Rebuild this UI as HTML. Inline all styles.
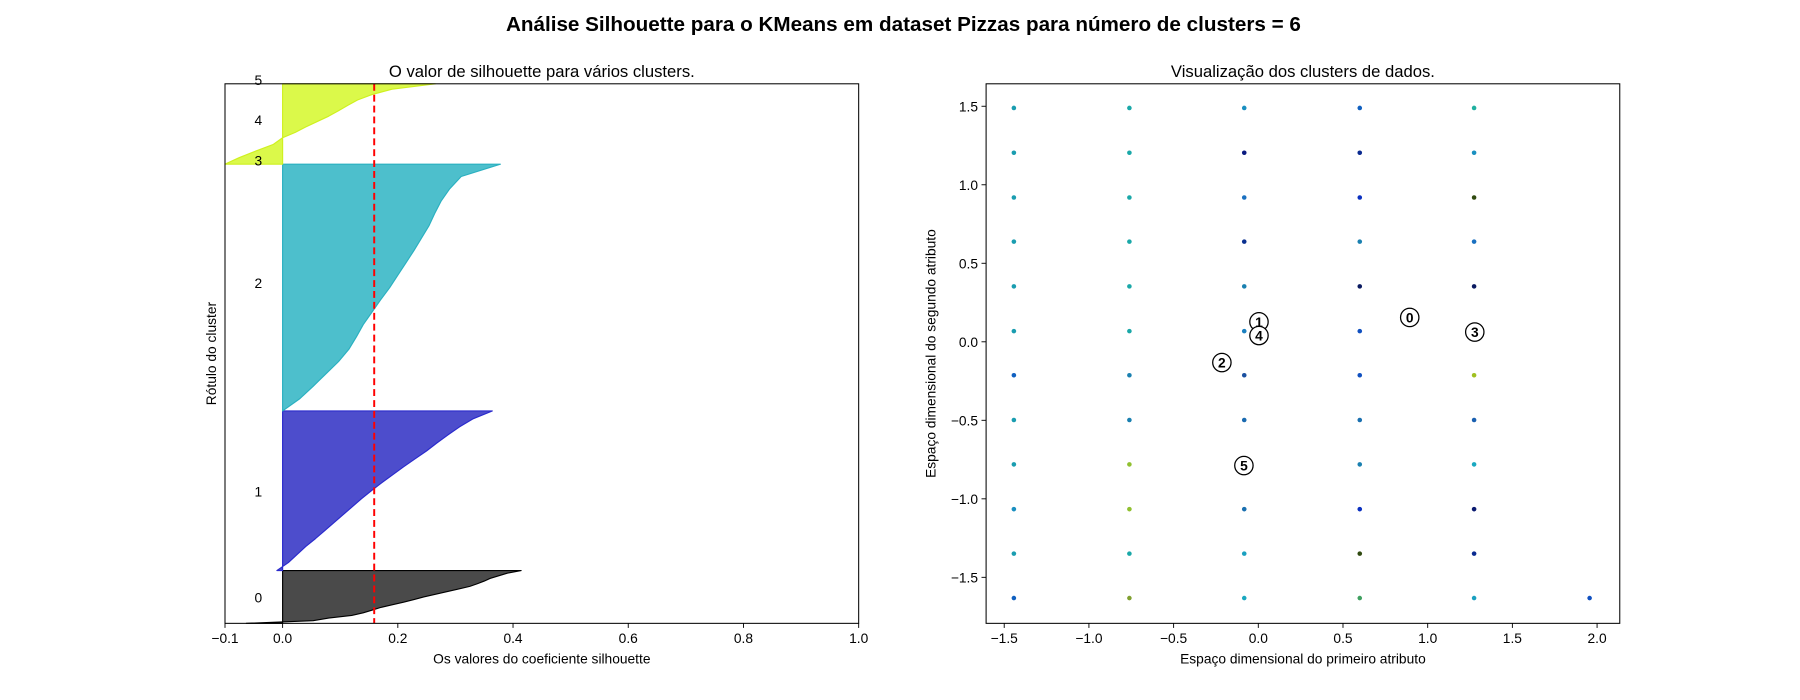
<!DOCTYPE html>
<html><head><meta charset="utf-8"><style>
html,body{margin:0;padding:0;background:#fff;}
svg{display:block;font-family:"Liberation Sans","DejaVu Sans",sans-serif;}
</style></head><body>
<svg id="fig" width="1800" height="700" viewBox="0 0 1800 700" xmlns="http://www.w3.org/2000/svg">
<rect width="1800" height="700" fill="#fff"/>
<g transform="scale(1.14796)">
<text x="787" y="27" font-size="18" font-weight="bold" text-anchor="middle">Análise Silhouette para o KMeans em dataset Pizzas para número de clusters = 6</text>
<text x="472" y="67" font-size="14.5" text-anchor="middle">O valor de silhouette para vários clusters.</text>
<text x="1135" y="67" font-size="14.5" text-anchor="middle">Visualização dos clusters de dados.</text>
<g id="left"></g>
<g id="right"></g>
<text x="472" y="578" font-size="12" text-anchor="middle">Os valores do coeficiente silhouette</text>
<text transform="translate(188,308) rotate(-90)" font-size="12" text-anchor="middle">Rótulo do cluster</text>
<text x="1135" y="578" font-size="12" text-anchor="middle">Espaço dimensional do primeiro atributo</text>
<text transform="translate(815,308) rotate(-90)" font-size="12" text-anchor="middle">Espaço dimensional do segundo atributo</text>
</g>
</svg>
<script>
const NS="http://www.w3.org/2000/svg";
// ---- silhouette data ----
const silClusters=["0","1","2","3","4"];
const silYStart=[0,46,185,400,423];   // y units from bottom (axis 0..470)
const silYEnd=[46,185,400,423,470];
const silValues=[
 [-0.063,0.053,0.08,0.12,0.14,0.155,0.17,0.19,0.21,0.228,0.245,0.265,0.285,0.305,0.325,0.338,0.35,0.36,0.375,0.39,0.414],
 [-0.01,0.01,0.025,0.04,0.057,0.073,0.089,0.105,0.121,0.137,0.154,0.172,0.191,0.21,0.23,0.25,0.268,0.287,0.307,0.33,0.364],
 [0.0,0.03,0.053,0.075,0.097,0.115,0.128,0.14,0.155,0.17,0.186,0.2,0.214,0.228,0.241,0.254,0.264,0.275,0.29,0.31,0.378],
 [-0.1,-0.075,-0.046,-0.016,0.0],
 [0.0,0.022,0.04,0.06,0.08,0.097,0.113,0.13,0.155,0.19,0.265]
];
const silFill=["#4a4a4a","#4d4dcc","#4dbfcc","#dbf94a","#dbf94a"];
const silEdge=["#000","#2a2acc","#2ab0c0","#cff020","#cff020"];
const labelNames=["0","1","2","3","4","5"];
const labelY=[23,115.5,297,404,439,474];
const silAvg=0.159;
const silXTicks=[-0.1,0.0,0.2,0.4,0.6,0.8,1.0];
const silXTickLabels=["−0.1","0.0","0.2","0.4","0.6","0.8","1.0"];
// ---- scatter data ----
const gridX=[-1.443,-0.761,-0.083,0.599,1.274];
const gridY=[1.489,1.204,0.919,0.638,0.353,0.068,-0.213,-0.498,-0.781,-1.066,-1.349,-1.632];
const pointColors=[
 ["#1a9db0","#1aa8a8","#1a8fc0","#1060c0","#20b0a0"],
 ["#1a9db0","#1aa8a8","#0a1a80","#0a2a90","#1a90c0"],
 ["#1a9db0","#1aa8a8","#1a70c0","#0a30c0","#304a10"],
 ["#1a9db0","#1aa8a8","#0a3090","#1a80b0","#1a70c0"],
 ["#1a9db0","#1aa8a8","#1a80b0","#0a1a60","#0a1a60"],
 ["#1a9db0","#1aa8a8","#1a80c0","#1050c0","#1a90c0"],
 ["#1060c0","#1a80b0","#1a50a0","#1050c0","#a0c020"],
 ["#1a9db0","#1a80b0","#1a6ab0","#1a70b0","#1a60b0"],
 ["#1a9db0","#90c030","#1a80b0","#1a80b0","#1aa8c0"],
 ["#1a8fc0","#90c030","#1a70b0","#0a30c0","#0a1a70"],
 ["#1a9db0","#1aa8a8","#1aa0c0","#304a10","#0a2a90"],
 ["#1060c0","#80a030","#1aa8c0","#40a060","#1aa0c0"]
];
const extraX=[1.956];const extraY=[-1.632];const extraColor=["#1050c0"];
const centerLabels=["0","1","2","3","4","5"];
const centerX=[0.894,0.004,-0.215,1.278,0.004,-0.085];
const centerY=[0.155,0.127,-0.132,0.062,0.040,-0.788];
const scXTicks=[-1.5,-1.0,-0.5,0.0,0.5,1.0,1.5,2.0];
const scXTickLabels=["−1.5","−1.0","−0.5","0.0","0.5","1.0","1.5","2.0"];
const scYTicks=[1.5,1.0,0.5,0.0,-0.5,-1.0,-1.5];
const scYTickLabels=["1.5","1.0","0.5","0.0","−0.5","−1.0","−1.5"];

function mk(p,tag,a,txt){const e=document.createElementNS(NS,tag);for(const k in a)e.setAttribute(k,a[k]);if(txt!==undefined)e.textContent=txt;p.appendChild(e);return e;}

// left axes
const L={x0:196,x1:748,y0:73,y1:543};
const lx=v=>L.x0+(v-(-0.1))/(1.1)*(L.x1-L.x0);
const ly=v=>L.y1-v/470*(L.y1-L.y0);
const gl=document.getElementById('left');
silClusters.forEach((c,i)=>{
  const vals=silValues[i],n=vals.length;
  let d=`M${lx(0)},${ly(silYStart[i])}`;
  vals.forEach((v,j)=>{const y=silYStart[i]+(silYEnd[i]-silYStart[i])*j/(n-1);d+=` L${lx(v)},${ly(y)}`;});
  d+=` L${lx(0)},${ly(silYEnd[i])} Z`;
  const p=mk(gl,'path',{d,fill:silFill[i],stroke:silEdge[i],'stroke-width':1,'stroke-linejoin':'round'});
  
  
});
labelNames.forEach((t,i)=>{
  const e=mk(gl,'text',{x:225,y:ly(labelY[i])+5,'font-size':12,'text-anchor':'middle'},t);
  
  
});
const av=mk(gl,'line',{x1:lx(silAvg),x2:lx(silAvg),y1:L.y0,y2:L.y1,stroke:'#ff0000','stroke-width':1.7,'stroke-dasharray':'6,3.5'});


const fr=mk(gl,'rect',{x:L.x0,y:L.y0,width:L.x1-L.x0,height:L.y1-L.y0,fill:'none',stroke:'#000','stroke-width':0.9});


silXTicks.forEach((v,i)=>{
  mk(gl,'line',{x1:lx(v),x2:lx(v),y1:L.y1,y2:L.y1+4,stroke:'#000','stroke-width':0.8});
  const t=mk(gl,'text',{x:lx(v),y:L.y1+17,'font-size':12,'text-anchor':'middle'},silXTickLabels[i]);
  
  
});

// right axes
const R={x0:859,x1:1411,y0:73,y1:543};
const XMIN=-1.607,XMAX=2.134,YMIN=-1.793,YMAX=1.643;
const rx=v=>R.x0+(v-XMIN)/(XMAX-XMIN)*(R.x1-R.x0);
const ry=v=>R.y1-(v-YMIN)/(YMAX-YMIN)*(R.y1-R.y0);
const gr=document.getElementById('right');
gridY.forEach((y,r)=>gridX.forEach((x,c)=>{
  const p=mk(gr,'circle',{cx:rx(x),cy:ry(y),r:2,fill:pointColors[r][c]});
  
  
}));
extraX.forEach((x,i)=>{
  const p=mk(gr,'circle',{cx:rx(x),cy:ry(extraY[i]),r:2,fill:extraColor[i]});
  
  
});
centerLabels.forEach((t,i)=>{
  const g=mk(gr,'g',{});
  
  
  mk(g,'circle',{cx:rx(centerX[i]),cy:ry(centerY[i]),r:8,fill:'#fff',stroke:'#000','stroke-width':1.1});
  mk(g,'text',{x:rx(centerX[i]),y:ry(centerY[i])+4.5,'font-size':12,'font-weight':'bold','text-anchor':'middle'},t);
});
const fr2=mk(gr,'rect',{x:R.x0,y:R.y0,width:R.x1-R.x0,height:R.y1-R.y0,fill:'none',stroke:'#000','stroke-width':0.9});


scXTicks.forEach((v,i)=>{
  mk(gr,'line',{x1:rx(v),x2:rx(v),y1:R.y1,y2:R.y1+4,stroke:'#000','stroke-width':0.8});
  const t=mk(gr,'text',{x:rx(v),y:R.y1+17,'font-size':12,'text-anchor':'middle'},scXTickLabels[i]);
  
  
});
scYTicks.forEach((v,i)=>{
  mk(gr,'line',{x1:R.x0-4,x2:R.x0,y1:ry(v),y2:ry(v),stroke:'#000','stroke-width':0.8});
  const t=mk(gr,'text',{x:R.x0-7,y:ry(v)+4.5,'font-size':12,'text-anchor':'end'},scYTickLabels[i]);
  
  
});
</script>
</body></html>
